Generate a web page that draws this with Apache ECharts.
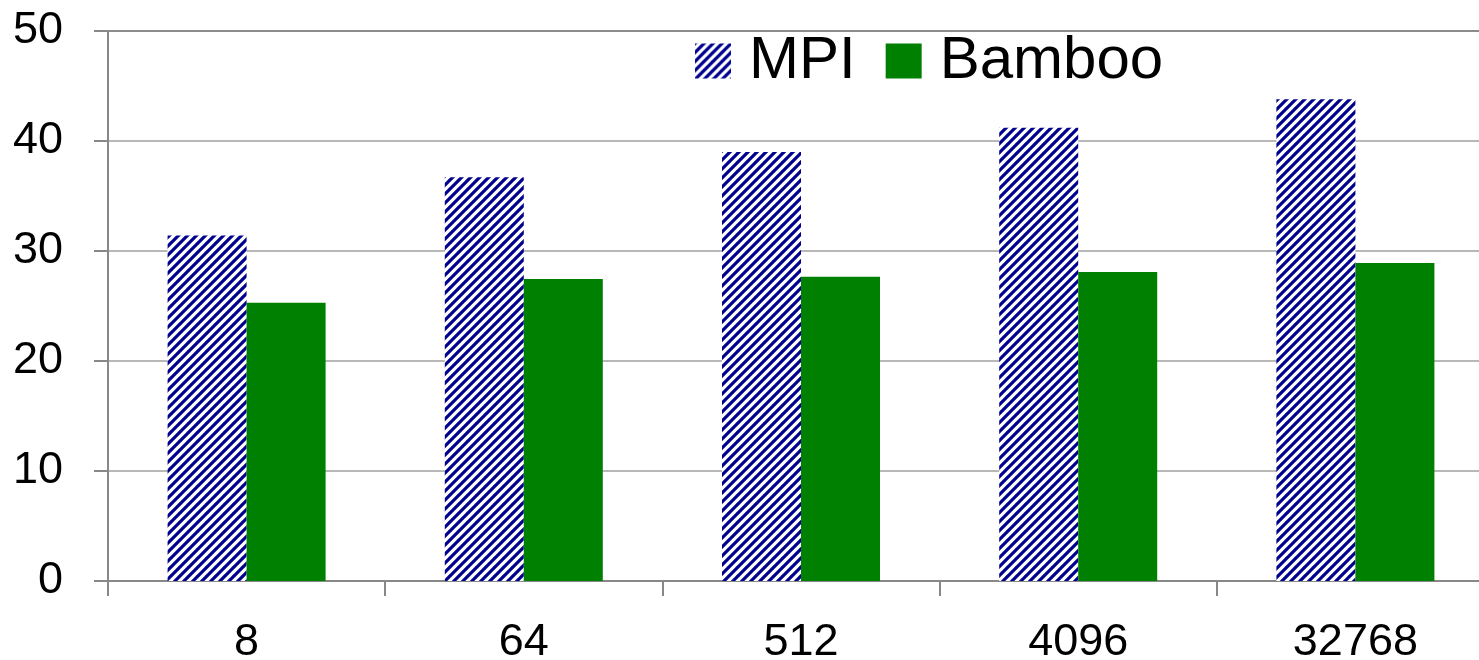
<!DOCTYPE html>
<html>
<head>
<meta charset="utf-8">
<script src="https://cdn.jsdelivr.net/npm/echarts@6/dist/echarts.min.js"></script>
<style>
html,body{margin:0;padding:0;background:#fff;}
#chart{width:1479px;height:660px;}
</style>
</head>
<body>
<div id="chart"></div>
<script>
const categories = ['8', '64', '512', '4096', '32768'];
const mpiValues = [31.4, 36.7, 39.0, 41.2, 43.8];
const bambooValues = [25.3, 27.45, 27.65, 28.1, 28.9];
const yTicks = { min: 0, max: 50, interval: 10 };

function makeHatch() {
  const s = 9;
  const c = document.createElement('canvas');
  c.width = s; c.height = s;
  const g = c.getContext('2d');
  g.fillStyle = '#ffffff';
  g.fillRect(0, 0, s, s);
  g.strokeStyle = '#00008f';
  g.lineWidth = 3.2;
  g.lineCap = 'square';
  for (let k = -1; k <= 1; k++) {
    g.beginPath();
    g.moveTo(k * s - 1, s + 1);
    g.lineTo(k * s + s + 1, -1);
    g.stroke();
  }
  return c;
}
const hatch = { image: makeHatch(), repeat: 'repeat' };

const tickFont = '"Liberation Sans", Arial, sans-serif';
const legendFont = '"Liberation Sans", Arial, sans-serif';
const chart = echarts.init(document.getElementById('chart'));
chart.setOption({
  animation: false,
  backgroundColor: '#ffffff',
  grid: { left: 108, top: 31, bottom: 79, right: -15, containLabel: false, outerBoundsMode: 'none' },
  legend: {
    left: 690, top: 26,
    icon: 'rect',
    itemWidth: 36, itemHeight: 35, itemGap: 30,
    textStyle: { fontSize: 60, color: '#000', fontFamily: legendFont, padding: [0, 0, 0, 13] },
    data: ['MPI', 'Bamboo']
  },
  xAxis: {
    type: 'category',
    data: categories,
    axisLine: { show: true, lineStyle: { color: '#888', width: 2 } },
    axisTick: { show: true, length: 15, lineStyle: { color: '#888', width: 2 } },
    axisLabel: { fontSize: 45, color: '#000', fontFamily: tickFont, margin: 39 },
    splitLine: { show: false }
  },
  yAxis: {
    type: 'value',
    min: yTicks.min, max: yTicks.max, interval: yTicks.interval,
    axisLine: { show: true, lineStyle: { color: '#888', width: 2 } },
    axisTick: { show: true, length: 14, lineStyle: { color: '#888', width: 2 } },
    axisLabel: { fontSize: 45, color: '#000', fontFamily: tickFont, margin: 45 },
    splitLine: { show: true, lineStyle: { color: ['#888', '#b8b8b8', '#b8b8b8', '#b8b8b8', '#b8b8b8', '#8c8c8c'], width: 2 } }
  },
  series: [
    {
      name: 'MPI', type: 'bar', data: mpiValues,
      barWidth: 79, barGap: '0%',
      itemStyle: { color: hatch }
    },
    {
      name: 'Bamboo', type: 'bar', data: bambooValues,
      barWidth: 79, barGap: '0%',
      itemStyle: { color: '#008000' }
    }
  ]
});
</script>
</body>
</html>
